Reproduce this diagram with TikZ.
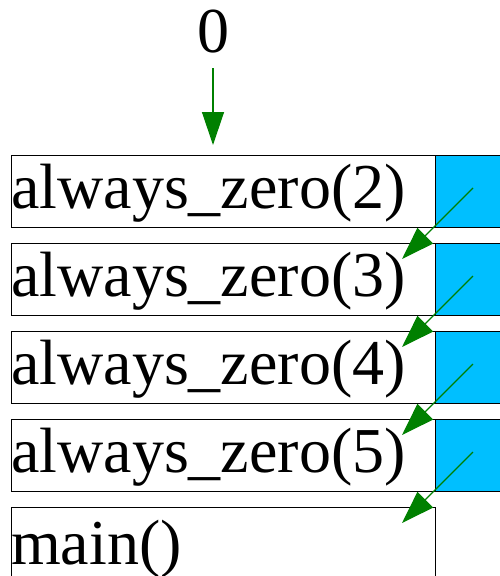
\documentclass[tikz,border=0pt]{standalone}
\usepackage{fontspec}
\setmainfont{Liberation Serif}
\usetikzlibrary{arrows.meta}
\definecolor{frameblue}{RGB}{0,191,255}
\definecolor{arrowgreen}{RGB}{0,128,0}
\begin{document}
\begin{tikzpicture}[x=1pt,y=-1pt,
  framebox/.style={draw=black,line width=1pt,fill=white,minimum width=424pt,minimum height=72pt,anchor=north west,inner sep=0pt},
  slotbox/.style={draw=black,line width=1pt,fill=frameblue,minimum width=80pt,minimum height=72pt,anchor=north west,inner sep=0pt},
  lbl/.style={font=\fontsize{64}{64}\selectfont,inner sep=0pt,anchor=base west},
  link/.style={draw=arrowgreen,line width=1.3pt,-{Triangle[length=33pt,width=22pt]}}]
\useasboundingbox (0,0) rectangle (500,576);
\clip (0,0) rectangle (500,576);
\fill[white] (0,0) rectangle (500,576);
% frames
\foreach \i/\n in {0/2,1/3,2/4,3/5}{
  \node[framebox] (f\n) at (11,155+88*\i) {};
  \node[slotbox] (s\n) at (435,155+88*\i) {};
  \node[lbl] (t\n) at (11,208+88*\i) {always\_zero(\n)};
}
\node[framebox,minimum height=90pt] (fm) at (11,507) {};
\node[lbl] (tm) at (11,564) {main()};
% return value
\node[font=\fontsize{64}{64}\selectfont,inner sep=0pt,anchor=base] (zero) at (213,52) {0};
\coordinate (z0) at (213,68);
\coordinate (z1) at (213,145);
\draw[link] (z0) -- (z1);
% return links
\foreach \i/\n in {0/2,1/3,2/4,3/5}{
  \coordinate (a\n) at (473,188+88*\i);
  \coordinate (b\n) at (402,259+88*\i);
  \draw[link] (a\n) -- (b\n);
}
\end{tikzpicture}
\end{document}
